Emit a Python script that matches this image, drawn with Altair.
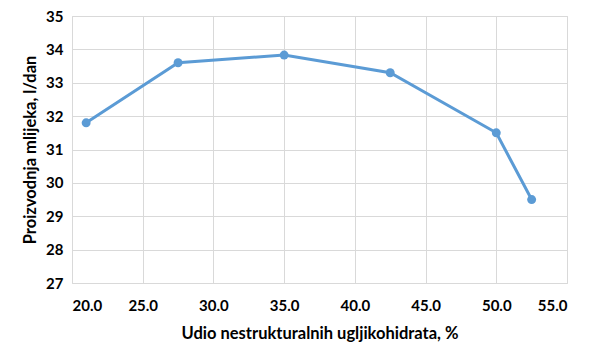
import altair as alt
import pandas as pd

x_vals = [21.0, 27.5, 35.0, 42.5, 50.0, 52.5]
y_vals = [31.8, 33.6, 33.83, 33.3, 31.5, 29.5]

df = pd.DataFrame({"x": x_vals, "y": y_vals})

color = "#5B9BD5"
font = "Lato"

xenc = alt.X("x:Q", scale=alt.Scale(domain=[20, 55], nice=False, zero=False),
             axis=alt.Axis(title="Udio nestrukturalnih ugljikohidrata, %", values=[20, 25, 30, 35, 40, 45, 50, 55],
                           format=".1f", labelPadding=15, titlePadding=12))
yenc = alt.Y("y:Q", scale=alt.Scale(domain=[27, 35], nice=False, zero=False),
             axis=alt.Axis(title="Proizvodnja mlijeka, l/dan", values=[27, 28, 29, 30, 31, 32, 33, 34, 35],
                           labelPadding=9, titlePadding=7))

base = alt.Chart(df).encode(x=xenc, y=yenc)
line = base.mark_line(color=color, strokeWidth=3, interpolate="linear")
pts = base.mark_point(color=color, filled=True, opacity=1, size=80)

chart = (line + pts).properties(
    width=495, height=267,
    autosize=alt.AutoSizeParams(type="none"),
    padding={"left": 64, "top": 8, "right": 25, "bottom": 69},
    background="white",
).configure_view(stroke="#D9D9D9", strokeWidth=1).configure_axis(
    grid=True, gridColor="#D9D9D9", gridWidth=1, domain=False, ticks=False,
    labelFont=font, labelFontSize=15, labelFontWeight="bold", labelColor="#000000",
    titleFont=font, titleFontSize=16.5, titleFontWeight="bold", titleColor="#000000",
)

chart.save("out.html", embed_options={"renderer": "svg", "actions": False})
